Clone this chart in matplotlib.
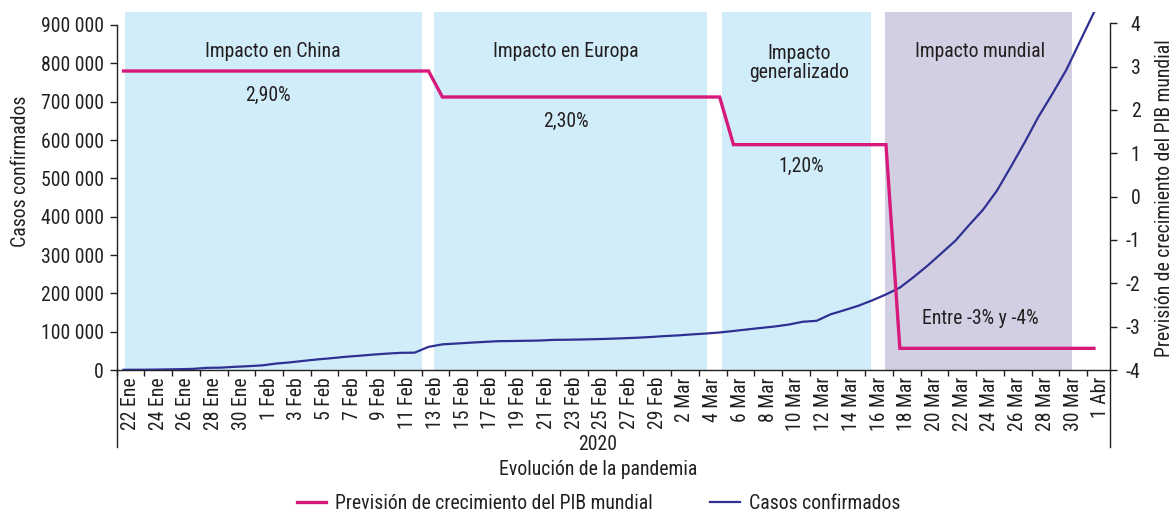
import numpy as np
import matplotlib
matplotlib.use("Agg")
import matplotlib.pyplot as plt
from matplotlib.lines import Line2D
from matplotlib.ticker import FixedLocator, FuncFormatter, NullFormatter

plt.rcParams['font.family'] = ['Roboto Condensed', 'Archivo Narrow', 'PT Sans Narrow',
                               'Fira Sans Condensed', 'IBM Plex Sans Condensed',
                               'Liberation Sans', 'DejaVu Sans']
plt.rcParams['axes.unicode_minus'] = False

# ---------------- data ----------------
casos = [555, 654, 941, 1434, 2118, 2927, 5578, 6166, 8234, 9927,
         12038, 16787, 19881, 23892, 27635, 30794, 34391, 37120, 40150, 42762,
         44802, 45221, 60368, 66885, 69030, 71224, 73258, 75136, 75639, 76197,
         76819, 78572, 78958, 79561, 80406, 81388, 82746, 84112, 86011,
         88369, 90306, 92840, 95120, 97886, 101801, 105847, 109821, 113590, 118620,
         125875, 128352, 145205, 156101, 167454, 181574, 197102, 214821, 242570,
         272208, 304507, 336953, 378235, 418045, 467653, 529591, 593291, 660706,
         720117, 782365, 857487,
         932605]
pib = [2.9] * 23 + [2.3] * 21 + [1.2] * 12 + [-3.5] * 15

tick_labels = ["22 Ene", "24 Ene", "26 Ene", "28 Ene", "30 Ene", "1 Feb", "3 Feb", "5 Feb",
               "7 Feb", "9 Feb", "11 Feb", "13 Feb", "15 Feb", "17 Feb", "19 Feb", "21 Feb",
               "23 Feb", "25 Feb", "27 Feb", "29 Feb", "2 Mar", "4 Mar", "6 Mar", "8 Mar",
               "10 Mar", "12 Mar", "14 Mar", "16 Mar", "18 Mar", "20 Mar", "22 Mar", "24 Mar",
               "26 Mar", "28 Mar", "30 Mar", "1 Abr"]

fases = ["Impacto en China", "Impacto en Europa", "Impacto\ngeneralizado", "Impacto mundial"]
previsiones = ["2,90%", "2,30%", "1,20%", "Entre -3% y -4%"]

y_left_ticks = list(range(0, 900001, 100000))
y_right_ticks = list(range(-4, 5))

# ---------------- style / layout ----------------
TXT = '#231f20'
PINK = '#d6197b'
NAVY = '#2e3192'
LBLUE = '#d1edfa'
LPURP = '#d3cfe3'
FS = 14.2

band_spans = [(0.1, 21.5, LBLUE), (22.4, 42.1, LBLUE), (43.2, 53.9, LBLUE), (54.9, 68.45, LPURP)]
fase_pos = [(10.8, 3.34), (31.9, 3.34), (48.7, 3.09), (61.8, 3.34)]
prev_pos = [(10.4, 2.34), (31.9, 1.74), (48.86, 0.70), (61.8, -2.81)]

W, H = 1173, 511
fig = plt.figure(figsize=(W / 100, H / 100), dpi=100)
L, R, B, T = 116.6, 1110, 370, 12
ax = fig.add_axes([L / W, (H - B) / H, (R - L) / W, (B - T) / H])
ax2 = ax.twinx()

x = np.arange(len(casos))

for (s, e, c) in band_spans:
    ax.axvspan(s, e, color=c, lw=0, zorder=0)

ax.plot(x, casos, color=NAVY, lw=1.6, zorder=3, solid_joinstyle='round')
ax2.plot(x, pib, color=PINK, lw=2.4, zorder=4, solid_joinstyle='miter')

ax.set_xlim(-0.5, 71.16)
ax.set_ylim(0, 900000 + 13 * 900000 / 345)
ax2.set_ylim(-4, 4 + (23.3 - 12) / 43.25)

# spines
for a in (ax, ax2):
    a.spines['top'].set_visible(False)
    for s in a.spines.values():
        s.set_color(TXT)
        s.set_linewidth(1.0)
ax.spines['right'].set_visible(False)
ax2.spines['left'].set_visible(False)
ax2.spines['bottom'].set_visible(False)
ax.spines['left'].set_bounds(0, 900000)
ax2.spines['right'].set_bounds(-4, 4)

# left y axis
ax.yaxis.set_major_locator(FixedLocator(y_left_ticks))
ax.yaxis.set_major_formatter(FuncFormatter(lambda v, p: f"{int(round(v)):,}".replace(",", " ")))
ax.tick_params(axis='y', direction='out', length=5, width=1, color=TXT,
               labelsize=FS, labelcolor=TXT, pad=4.3)

# right y axis
ax2.yaxis.set_major_locator(FixedLocator(y_right_ticks))
ax2.yaxis.set_major_formatter(FuncFormatter(lambda v, p: str(int(round(v)))))
ax2.tick_params(axis='y', direction='out', length=5, width=1, color=TXT,
                labelsize=FS, labelcolor=TXT, pad=17)
for lab in ax2.get_yticklabels():
    lab.set_horizontalalignment('right')

# x axis
major = [-0.5 + 2 * k for k in range(0, 36)]
minor = [2 * k + 0.5 for k in range(len(tick_labels))]
ax.xaxis.set_major_locator(FixedLocator(major))
ax.xaxis.set_major_formatter(NullFormatter())
ax.xaxis.set_minor_locator(FixedLocator(minor))
ax.set_xticklabels(tick_labels, minor=True, rotation=90)
ax.tick_params(axis='x', which='major', direction='out', length=4, width=1, color=TXT)
ax.tick_params(axis='x', which='minor', length=0, pad=5, labelsize=FS, labelcolor=TXT)

# spine extensions below the axis (category group separators)
for xp in (L, R):
    fig.add_artist(Line2D([xp / W, xp / W], [(H - B) / H, (H - 447) / H],
                          transform=fig.transFigure, color=TXT, lw=1.0))

# band texts
for t, (px, py) in zip(fases, fase_pos):
    ax2.text(px, py, t, ha='center', va='center', fontsize=FS, color=TXT,
             linespacing=1.0, zorder=5)
for t, (px, py) in zip(previsiones, prev_pos):
    ax2.text(px, py, t, ha='center', va='center', fontsize=FS, color=TXT, zorder=5)

# axis titles
fig.text(21 / W, (H - 171) / H, "Casos confirmados", rotation=90, ha='center', va='center',
         fontsize=FS, color=TXT)
fig.text(1165 / W, (H - 198) / H, "Previsión de crecimiento del PIB mundial", rotation=90,
         ha='center', va='center', fontsize=FS, color=TXT)
fig.text(598 / W, (H - 444) / H, "2020", ha='center', va='center', fontsize=FS, color=TXT)
fig.text(598 / W, (H - 469) / H, "Evolución de la pandemia", ha='center', va='center',
         fontsize=FS, color=TXT)

# legend
handles = [Line2D([], [], color=PINK, lw=2.4), Line2D([], [], color=NAVY, lw=1.6)]
fig.legend(handles, ["Previsión de crecimiento del PIB mundial", "Casos confirmados"],
           loc='center', bbox_to_anchor=(598.5 / W, (H - 503) / H), ncol=2, frameon=False,
           fontsize=FS, handlelength=1.5, handletextpad=0.45, columnspacing=2.9,
           labelcolor=TXT, borderpad=0, borderaxespad=0)

fig.savefig("out.png", dpi=100)
